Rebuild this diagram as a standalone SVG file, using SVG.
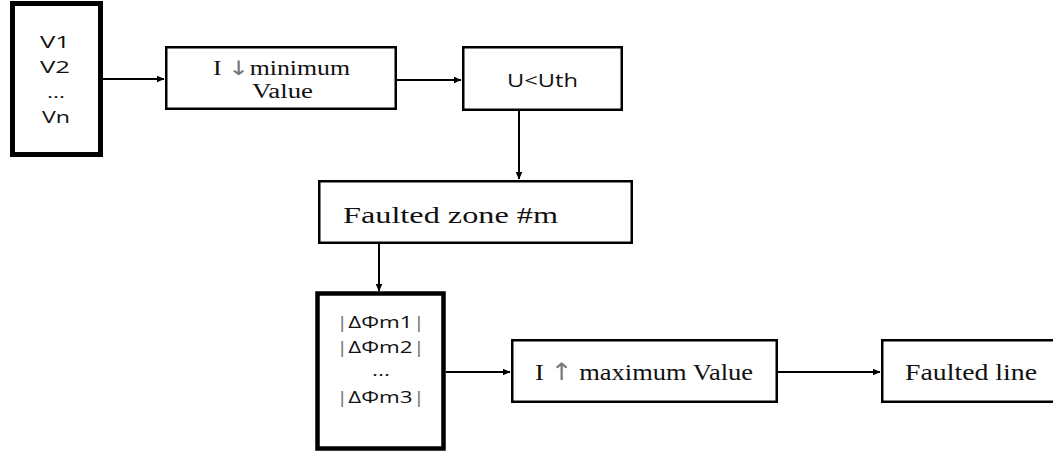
<svg xmlns="http://www.w3.org/2000/svg" width="1053" height="452" viewBox="0 0 1053 452">
  <defs>
    <marker id="arrow" markerWidth="8" markerHeight="7" refX="7.5" refY="3.5" orient="auto" markerUnits="userSpaceOnUse">
      <path d="M0,0 L8,3.5 L0,7 Z" fill="#000"/>
    </marker>
    <style>
      .box { fill: #fff; stroke: #000; stroke-width: 2.5; }
      .heavy { fill: #fff; stroke: #000; stroke-width: 4.5; }
      .sans { font-family: "Open Sans", "DejaVu Sans", sans-serif; fill: #111; }
      .serif { font-family: "Liberation Serif", "Times New Roman", serif; fill: #111; }
      .dim { fill: #777; }
      .glyph { font-family: "DejaVu Sans", sans-serif; }
      .conn { stroke: #000; stroke-width: 2; fill: none; marker-end: url(#arrow); }
    </style>
  </defs>

  <rect width="1053" height="452" fill="#fff"/>

  <!-- connectors -->
  <g id="connectors">
    <line class="conn" x1="103" y1="79" x2="164" y2="79"/>
    <line class="conn" x1="397" y1="80" x2="461" y2="80"/>
    <line class="conn" x1="519" y1="111" x2="519" y2="179"/>
    <line class="conn" x1="379" y1="244" x2="379" y2="291"/>
    <line class="conn" x1="446" y1="372" x2="510" y2="372"/>
    <line class="conn" x1="778" y1="372" x2="880" y2="372"/>
  </g>

  <!-- voltage inputs -->
  <g id="inputs">
    <rect class="heavy" x="12.5" y="3.5" width="88" height="151" style="stroke-width:5"/>
    <text class="sans" x="40" y="48" font-size="16.5" textLength="30" lengthAdjust="spacingAndGlyphs">V1</text>
    <text class="sans" x="40" y="73" font-size="16.5" textLength="30" lengthAdjust="spacingAndGlyphs">V2</text>
    <text class="sans" x="47" y="98" font-size="16.5" textLength="18" lengthAdjust="spacingAndGlyphs">...</text>
    <text class="sans" x="42" y="123" font-size="16.5" textLength="28" lengthAdjust="spacingAndGlyphs">Vn</text>
  </g>

  <!-- minimum current -->
  <g id="min-current">
    <rect class="box" x="166.25" y="47.25" width="229.5" height="61.5"/>
    <text class="serif" x="213" y="75" font-size="20" textLength="137" lengthAdjust="spacingAndGlyphs">I <tspan class="dim glyph">↓</tspan>minimum</text>
    <text class="serif" x="252" y="98" font-size="20" textLength="61" lengthAdjust="spacingAndGlyphs">Value</text>
  </g>

  <!-- voltage threshold -->
  <g id="threshold">
    <rect class="box" x="463.25" y="47.25" width="158.5" height="62.5"/>
    <text class="sans" x="507" y="87" font-size="18.5" textLength="71" lengthAdjust="spacingAndGlyphs">U&lt;Uth</text>
  </g>

  <!-- faulted zone -->
  <g id="faulted-zone">
    <rect class="box" x="319.25" y="181.25" width="312.5" height="61.5"/>
    <text class="serif" x="343" y="223" font-size="24" textLength="215" lengthAdjust="spacingAndGlyphs">Faulted zone #m</text>
  </g>

  <!-- phase differences -->
  <g id="phase-diff">
    <rect class="heavy" x="317.5" y="293.5" width="126" height="155"/>
    <text class="sans" x="336" y="328" font-size="16.5" textLength="89" lengthAdjust="spacingAndGlyphs"><tspan class="dim">|</tspan>ΔΦm1<tspan class="dim">|</tspan></text>
    <text class="sans" x="336" y="353" font-size="16.5" textLength="89" lengthAdjust="spacingAndGlyphs"><tspan class="dim">|</tspan>ΔΦm2<tspan class="dim">|</tspan></text>
    <text class="sans" x="372" y="376" font-size="16.5" textLength="18" lengthAdjust="spacingAndGlyphs">...</text>
    <text class="sans" x="336" y="403" font-size="16.5" textLength="89" lengthAdjust="spacingAndGlyphs"><tspan class="dim">|</tspan>ΔΦm3<tspan class="dim">|</tspan></text>
  </g>

  <!-- maximum current -->
  <g id="max-current">
    <rect class="box" x="512.25" y="340.25" width="264.5" height="61.5"/>
    <text class="serif" x="535" y="380" font-size="24" textLength="218" lengthAdjust="spacingAndGlyphs">I <tspan class="dim glyph">↑</tspan> maximum Value</text>
  </g>

  <!-- faulted line -->
  <g id="faulted-line">
    <rect class="box" x="882.25" y="340.25" width="200" height="61.5"/>
    <text class="serif" x="905" y="380" font-size="23" textLength="132" lengthAdjust="spacingAndGlyphs">Faulted line</text>
  </g>
</svg>
